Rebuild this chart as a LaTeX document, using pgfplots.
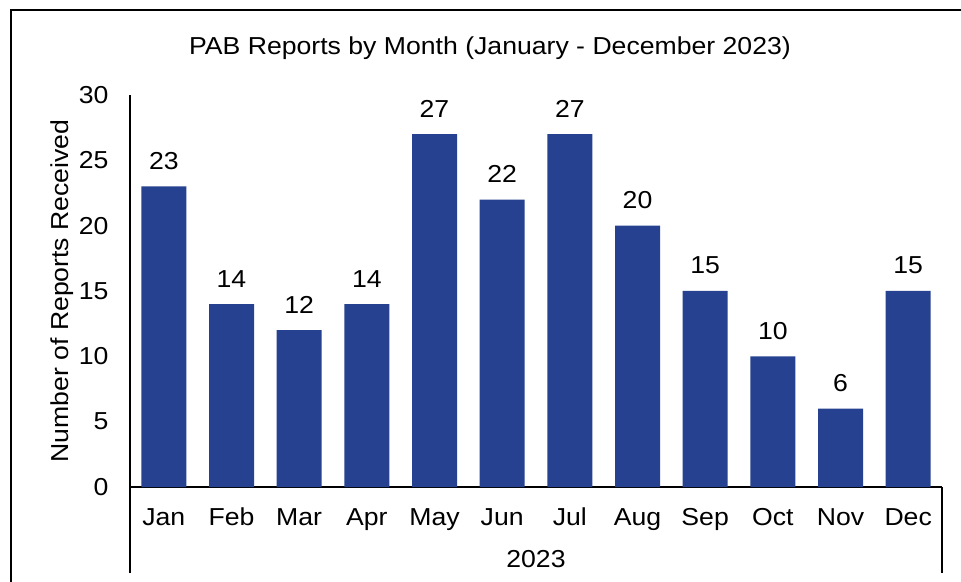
\documentclass[border=0pt]{standalone}
\usepackage{fontspec}
\setmainfont{Liberation Sans}[FakeStretch=1.085]
\usepackage{pgfplots}
\pgfplotsset{compat=1.18}
\definecolor{barblue}{RGB}{38,65,143}
\begin{document}
\fontsize{18.4}{22}\selectfont
\begin{tikzpicture}[x=0.75pt,y=0.75pt]
\path[use as bounding box] (0,0) rectangle (961,582);
\draw[line width=1.6pt] (11,0) -- (11,572) -- (961,572);
\node[anchor=base] at (490,527) {PAB Reports by Month (January - December 2023)};
\node[rotate=90,anchor=center] at (62,291) {Number of Reports Received};
\begin{axis}[
  at={(97.5pt,71.25pt)}, anchor=south west,
  scale only axis, width=609pt, height=294pt,
  axis x line*=bottom, axis y line*=left,
  axis line style={line width=1pt, black},
  xmin=-0.5, xmax=11.5, ymin=0, ymax=30,
  ytick={0,5,...,30},
  xtick={0,...,11},
  xticklabels={Jan,Feb,Mar,Apr,May,Jun,Jul,Aug,Sep,Oct,Nov,Dec},
  major tick length=0pt,
  /pgf/number format/assume math mode=true,
  ticklabel style={font=\fontsize{18.4}{22}\selectfont},
  yticklabel style={anchor=east, inner sep=0pt, xshift=-16pt},
  xticklabel style={anchor=base, inner sep=0pt, yshift=-28.5pt},
  clip=false,
]
\addplot[ybar, bar width=33.75pt, fill=barblue, draw=none,
  nodes near coords,
  nodes near coords style={anchor=base, inner sep=0pt, yshift=12.75pt, font=\fontsize{18.4}{22}\selectfont, text=black}]
  coordinates {(0,23) (1,14) (2,12) (3,14) (4,27) (5,22) (6,27) (7,20) (8,15) (9,10) (10,6) (11,15)};
\draw[line width=1pt] (rel axis cs:0,0) -- ([yshift=-64.5pt]rel axis cs:0,0);
\draw[line width=1pt] (rel axis cs:1,0) -- ([yshift=-64.5pt]rel axis cs:1,0);
\node[anchor=base] at ([yshift=-60pt]rel axis cs:0.5,0) {2023};
\end{axis}
\end{tikzpicture}
\end{document}
